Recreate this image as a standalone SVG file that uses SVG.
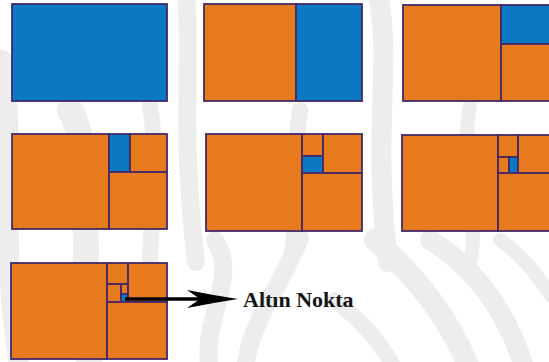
<svg xmlns="http://www.w3.org/2000/svg" width="549" height="362" viewBox="0 0 549 362">
<style>
.bg{fill:#ffffff}
.st{fill:none;stroke:#ededee;stroke-linecap:round}
.o{fill:#e77a1c;stroke:#43296a;stroke-width:1.8}
.b{fill:#0a78c2;stroke:#43296a;stroke-width:1.8}
.lbl{font-family:"Liberation Serif","Times New Roman",serif;font-weight:bold;font-size:22px;fill:#151515}
</style>
<defs>
<clipPath id="clip"><rect x="0" y="0" width="549" height="362"/></clipPath>
</defs>
<rect class="bg" x="0" y="0" width="549" height="362"/>
<g id="zebra" clip-path="url(#clip)">
<path class="st" stroke-width="20" d="M2,60 C18,150 -2,250 20,370"/>
<path class="st" stroke-width="26" d="M70,110 C95,150 80,260 90,370"/>
<path class="st" stroke-width="16" d="M150,105 C160,170 150,230 150,262"/>
<path class="st" stroke-width="18" d="M186,-5 C192,60 180,130 196,262"/>
<path class="st" stroke-width="20" d="M378,-5 C392,60 372,130 388,262"/>
<path class="st" stroke-width="18" d="M215,240 C240,280 200,320 210,370"/>
<path class="st" stroke-width="18" d="M300,238 C280,290 250,320 245,370"/>
<path class="st" stroke-width="16" d="M335,300 C360,320 380,340 395,370"/>
<path class="st" stroke-width="22" d="M375,240 C420,280 450,320 470,370"/>
<path class="st" stroke-width="20" d="M430,240 C480,270 510,320 525,370"/>
<path class="st" stroke-width="14" d="M500,240 C530,260 545,290 555,300"/>
<path class="st" stroke-width="16" d="M300,110 C290,180 300,220 290,262"/>
<path class="st" stroke-width="14" d="M470,105 C460,160 480,230 470,262"/>
</g>
<g id="panel1">
<rect class="b" x="12" y="4" width="155" height="97"/>
</g>
<g id="panel2">
<rect class="o" x="204" y="4" width="92" height="97"/>
<rect class="b" x="296" y="4" width="66" height="97"/>
</g>
<g id="panel3">
<rect class="o" x="403" y="5" width="98" height="96"/>
<rect class="b" x="501" y="5" width="60" height="39"/>
<rect class="o" x="501" y="44" width="60" height="57"/>
</g>
<g id="panel4">
<rect class="o" x="12" y="134" width="97" height="95"/>
<rect class="b" x="109" y="134" width="21" height="38"/>
<rect class="o" x="130" y="134" width="37" height="38"/>
<rect class="o" x="109" y="172" width="58" height="57"/>
</g>
<g id="panel5">
<rect class="o" x="206" y="134" width="96" height="97"/>
<rect class="o" x="302" y="134" width="21" height="22"/>
<rect class="b" x="302" y="156" width="21" height="17"/>
<rect class="o" x="323" y="134" width="39" height="39"/>
<rect class="o" x="302" y="173" width="60" height="58"/>
</g>
<g id="panel6">
<rect class="o" x="402" y="135" width="96" height="96"/>
<rect class="o" x="498" y="135" width="20" height="22"/>
<rect class="o" x="498" y="157" width="11" height="16"/>
<rect class="b" x="509" y="157" width="9" height="16"/>
<rect class="o" x="518" y="135" width="43" height="38"/>
<rect class="o" x="498" y="173" width="63" height="58"/>
</g>
<g id="panel7">
<rect class="o" x="11" y="263" width="96" height="96"/>
<rect class="o" x="107" y="263" width="21" height="21"/>
<rect class="o" x="107" y="284" width="14" height="18"/>
<rect class="o" x="121" y="284" width="7" height="10"/>
<rect class="b" x="121" y="294" width="7" height="8"/>
<rect class="o" x="128" y="263" width="39" height="39"/>
<rect class="o" x="107" y="302" width="60" height="57"/>
</g>
<g id="connectors">
<line x1="125" y1="299" x2="202" y2="299" stroke="#000" stroke-width="3.5"/>
<path d="M238,299 Q212,295 187,290 L200,299 L187,308 Q212,303 238,299 Z" fill="#000"/>
</g>
<g id="label">
<text class="lbl" x="243" y="307">Altın Nokta</text>
</g>
</svg>
